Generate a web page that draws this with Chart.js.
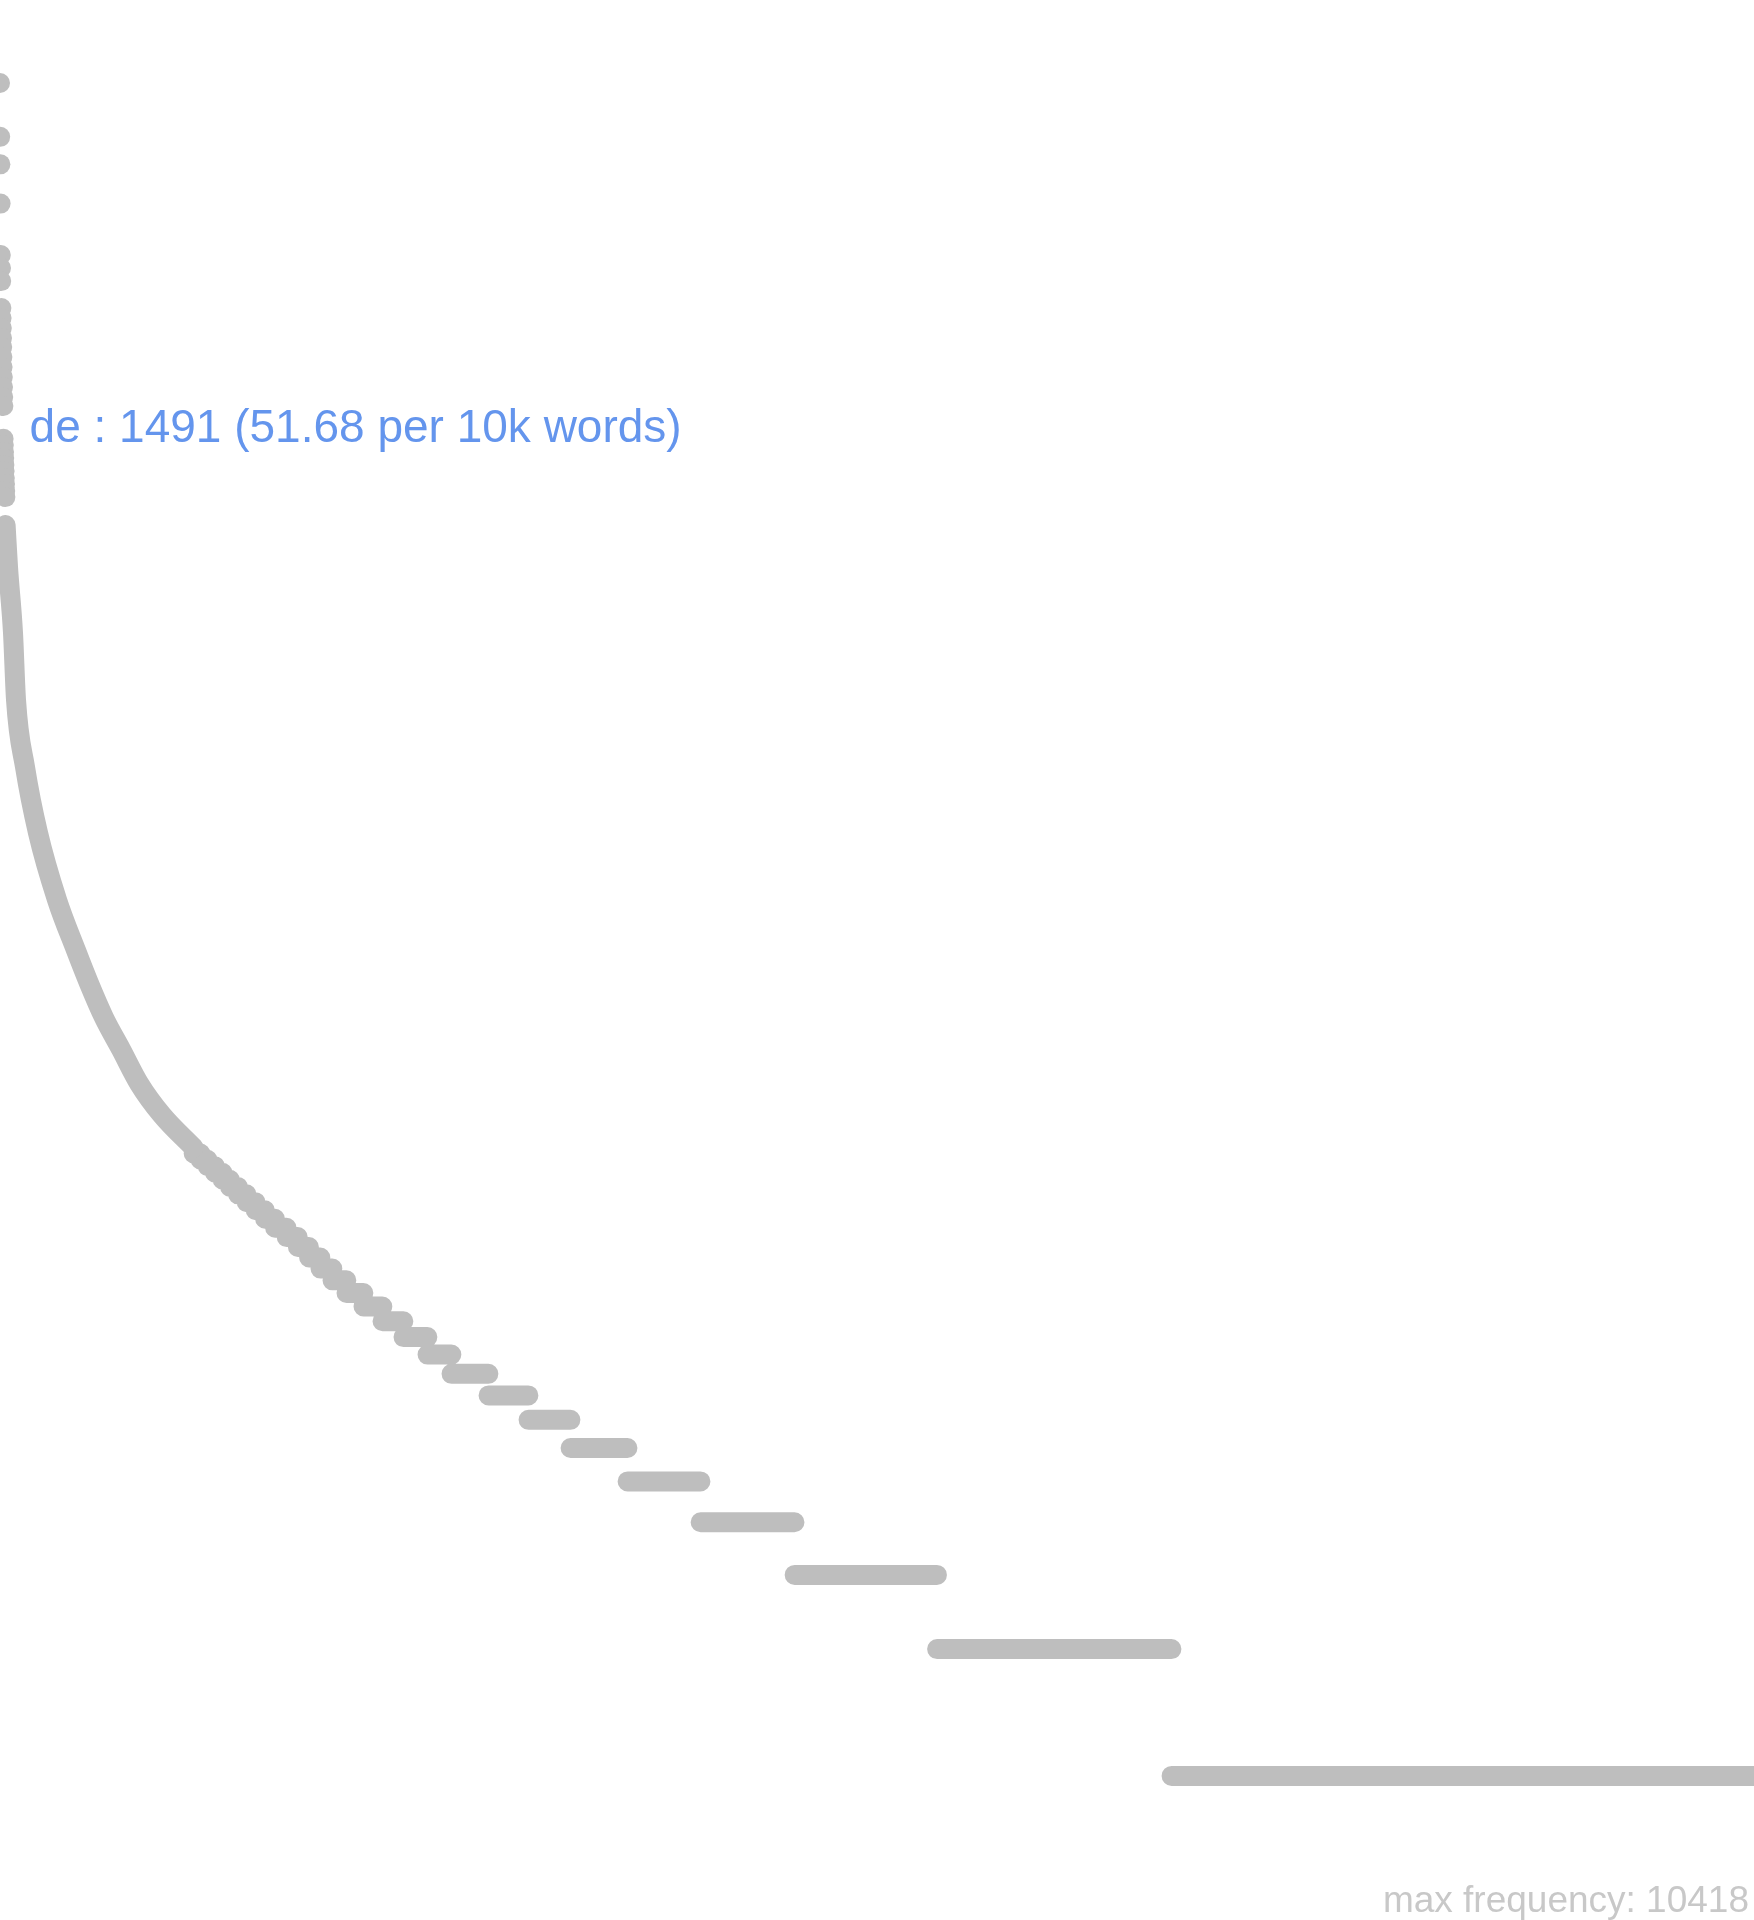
<!DOCTYPE html>
<html lang="en">
<head>
<meta charset="UTF-8">
<title>Word frequency by rank</title>
<script src="https://cdn.jsdelivr.net/npm/chart.js"></script>
<style>
    html, body { margin: 0; padding: 0; background: #ffffff; }
    #wrap { position: relative; width: 1754px; height: 1920px; }
</style>
</head>
<body>
<div id="wrap"><canvas id="rankChart"></canvas></div>

<script>
    // most frequent words, one value per rank (rank 1, 2, 3 ...)
    const topWordFreqs = [10418, 7761, 6677, 5388, 4069, 3789, 3529,
        3045, 2884, 2731, 2585, 2461, 2330, 2206, 2089, 1978, 1873, 1783,
        1491, 1440, 1387, 1342, 1292, 1250, 1203, 1164, 1121, 1084];

    // the dense part of the curve, read as (rank, frequency)
    const curveRanks = [29, 41, 66, 81, 126, 191, 286, 381, 446, 521, 606, 696, 811, 968];
    const curveFreqs = [930, 740, 516, 358, 248, 173, 120, 91, 76, 63, 53, 44, 37, 31];

    // low frequencies: how many words share each frequency
    const spectrumFreqs = [30, 29, 28, 27, 26, 25, 24, 23, 22, 21, 20, 19, 18, 17, 16, 15,
        14, 13, 12, 11, 10, 9, 8, 7, 6, 5, 4, 3, 2, 1];
    const spectrumCounts = [35, 35, 37, 38, 37, 40, 43, 45, 47, 50, 58, 56, 56, 57, 60, 70,
        85, 95, 105, 120, 120, 185, 200, 210, 285, 365, 470, 712, 1172, 2912];

    const labelWord = 'de';
    const labelFreq = 1491;
    const labelPer10k = '51.68';
    const maxFrequency = 10418;

    const GREY = '#bebebe';

    const topPoints = topWordFreqs.map((f, i) => ({ x: i + 1, y: f }));
    const curvePoints = curveRanks.map((r, i) => ({ x: r, y: curveFreqs[i] }));

    // each frequency level becomes a flat run from its first to its last rank
    const stepPoints = [];
    let rank = curveRanks[curveRanks.length - 1] + 1;
    spectrumFreqs.forEach((f, i) => {
        const first = rank;
        const last = rank + spectrumCounts[i] - 1;
        stepPoints.push({ x: first, y: f }, { x: last, y: f }, { x: last, y: null });
        rank = last + 1;
    });
    const vocabSize = rank - 1;

    const labelsPlugin = {
        id: 'labels',
        afterDraw(chart) {
            const { ctx, scales } = chart;
            const labelRank = topWordFreqs.indexOf(labelFreq) + 1;
            ctx.save();
            ctx.font = '46px "Liberation Sans", Arial, sans-serif';
            ctx.fillStyle = 'cornflowerblue';
            ctx.textAlign = 'left';
            ctx.textBaseline = 'alphabetic';
            ctx.fillText(labelWord + ' : ' + labelFreq + ' (' + labelPer10k + ' per 10k words)',
                scales.x.getPixelForValue(labelRank) + 26,
                scales.y.getPixelForValue(labelFreq) + 3);

            ctx.font = '37px "Liberation Sans", Arial, sans-serif';
            ctx.fillStyle = '#c8c8c8';
            ctx.textAlign = 'right';
            ctx.fillText('max frequency: ' + maxFrequency, chart.width - 5, chart.height - 8);
            ctx.restore();
        }
    };

    const ctx = document.getElementById('rankChart').getContext('2d');
    new Chart(ctx, {
        type: 'scatter',
        data: {
            datasets: [
                {
                    data: topPoints,
                    backgroundColor: GREY,
                    pointRadius: 10,
                    pointBorderWidth: 0,
                    showLine: false
                },
                {
                    data: curvePoints,
                    borderColor: GREY,
                    borderWidth: 20,
                    borderCapStyle: 'round',
                    borderJoinStyle: 'round',
                    cubicInterpolationMode: 'monotone',
                    pointRadius: 0,
                    showLine: true
                },
                {
                    data: stepPoints,
                    borderColor: GREY,
                    borderWidth: 20,
                    borderCapStyle: 'round',
                    pointRadius: 0,
                    showLine: true,
                    spanGaps: false
                }
            ]
        },
        options: {
            responsive: true,
            maintainAspectRatio: false,
            animation: false,
            layout: { padding: 0, autoPadding: false },
            plugins: {
                legend: { display: false },
                tooltip: { enabled: false }
            },
            scales: {
                x: { type: 'linear', display: false, min: 1, max: vocabSize },
                y: { type: 'logarithmic', display: false, min: 0.4551, max: 16393 }
            }
        },
        plugins: [labelsPlugin]
    });
</script>
</body>
</html>
